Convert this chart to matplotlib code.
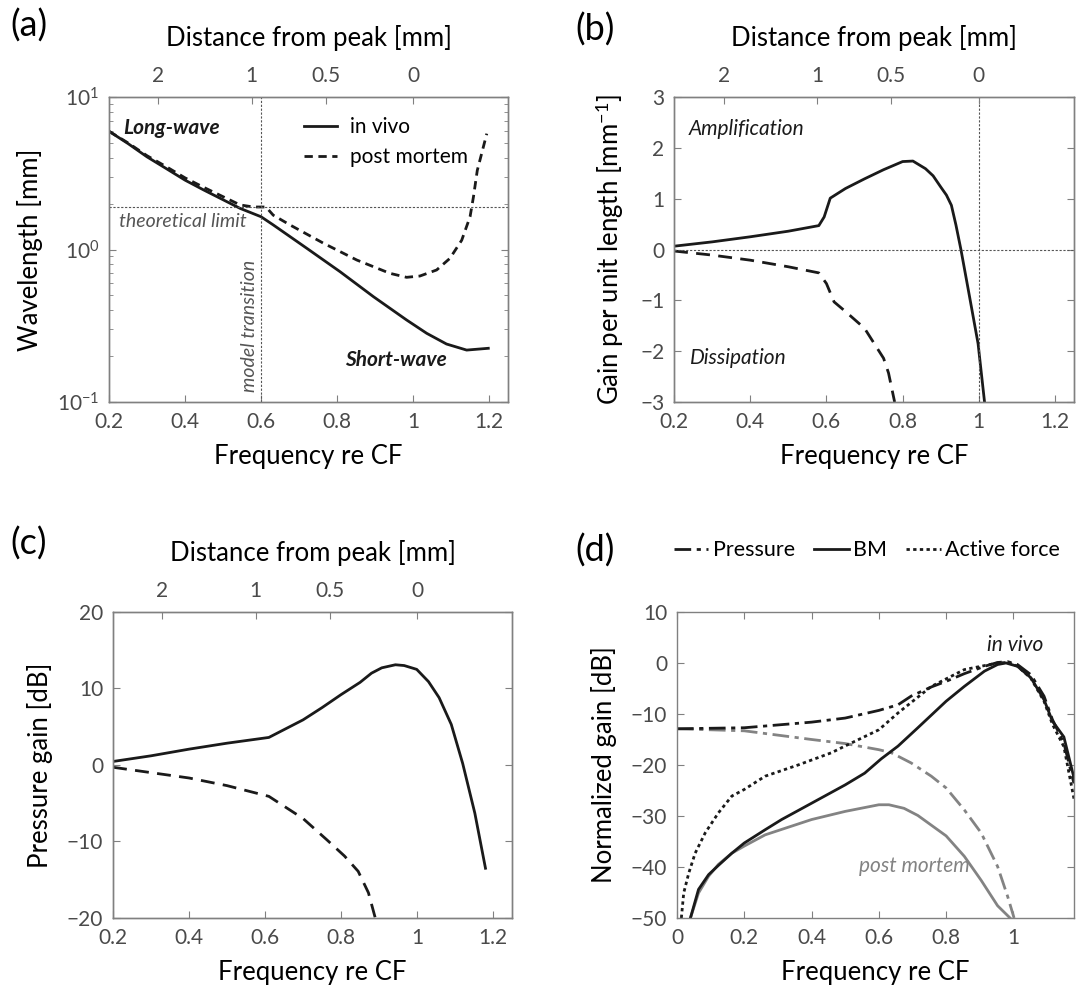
import matplotlib.pyplot as plt

plt.rcParams['font.family'] = ['Lato', 'DejaVu Sans']
plt.rcParams['mathtext.fontset'] = 'custom'
plt.rcParams['mathtext.rm'] = 'Lato'
plt.rcParams['mathtext.it'] = 'Lato:italic'

# (a) wavelength vs frequency
freq_a_vivo = [0.2, 0.25, 0.3, 0.35, 0.4, 0.45, 0.5, 0.545, 0.6, 0.632, 0.72,
               0.808, 0.896, 0.983, 1.036, 1.088, 1.141, 1.198]
wl_vivo = [5.96, 4.95, 4.05, 3.4, 2.85, 2.45, 2.12, 1.86, 1.64, 1.45, 1.02,
           0.715, 0.49, 0.345, 0.282, 0.24, 0.219, 0.225]
freq_a_pm = [0.2, 0.25, 0.3, 0.35, 0.4, 0.45, 0.5, 0.545, 0.58, 0.613, 0.632,
             0.676, 0.764, 0.852, 0.939, 0.983, 1.018, 1.062, 1.097, 1.128,
             1.15, 1.159, 1.169, 1.194]
wl_pm = [5.96, 5.0, 4.12, 3.5, 2.95, 2.55, 2.22, 1.96, 1.9, 1.9, 1.68, 1.45,
         1.1, 0.853, 0.698, 0.657, 0.67, 0.734, 0.875, 1.15, 1.64, 2.22, 3.3,
         5.75]
theoretical_limit = 1.9
transition_freq = 0.6

# (b) gain per unit length
freq_b_vivo = [0.2, 0.3, 0.4, 0.5, 0.58, 0.594, 0.61, 0.65, 0.7, 0.75, 0.8,
               0.827, 0.86, 0.88, 0.9, 0.915, 0.928, 0.94, 0.953, 0.974,
               0.998, 1.015]
gain_b_vivo = [0.065, 0.15, 0.25, 0.36, 0.47, 0.64, 1.01, 1.2, 1.39, 1.57,
               1.73, 1.74, 1.59, 1.45, 1.23, 1.07, 0.87, 0.48, 0.0, -0.86,
               -1.85, -3.0]
freq_b_pm = [0.2, 0.3, 0.4, 0.5, 0.58, 0.6, 0.62, 0.65, 0.7, 0.75, 0.763,
             0.779]
gain_b_pm = [-0.03, -0.11, -0.21, -0.34, -0.46, -0.67, -1.03, -1.22, -1.55,
             -2.14, -2.43, -3.0]

# (c) pressure gain
freq_c_vivo = [0.2, 0.3, 0.4, 0.5, 0.61, 0.7, 0.75, 0.8, 0.85, 0.88, 0.907,
               0.943, 0.966, 0.999, 1.03, 1.058, 1.09, 1.12, 1.152, 1.18]
pgain_vivo = [0.46, 1.2, 2.07, 2.85, 3.6, 5.9, 7.5, 9.2, 10.8, 12.0, 12.7,
              13.1, 13.0, 12.5, 10.9, 8.8, 5.3, 0.2, -6.3, -13.5]
freq_c_pm = [0.2, 0.3, 0.4, 0.5, 0.61, 0.7, 0.763, 0.809, 0.845, 0.872, 0.89]
pgain_pm = [-0.3, -1.0, -1.7, -2.7, -4.1, -7.0, -9.8, -11.9, -13.9, -16.7,
            -20.0]

# (d) normalized gains
freq_p_vivo = [0.0, 0.2, 0.4, 0.5, 0.6, 0.657, 0.696, 0.756, 0.8, 0.854,
               0.914, 0.953, 0.983, 1.012, 1.052, 1.091, 1.116, 1.15, 1.18]
press_vivo = [-12.9, -12.7, -11.6, -10.8, -9.3, -8.2, -6.5, -4.7, -3.6, -2.1,
              -0.65, 0.1, 0.26, -0.3, -2.3, -6.5, -11.1, -15.7, -23.6]
freq_bm_vivo = [0.04, 0.064, 0.094, 0.123, 0.163, 0.2, 0.262, 0.311, 0.4, 0.5,
                0.558, 0.607, 0.657, 0.716, 0.8, 0.854, 0.914, 0.953, 0.978,
                1.012, 1.052, 1.091, 1.116, 1.15, 1.18]
bm_vivo = [-50.0, -44.4, -41.5, -39.7, -37.3, -35.3, -32.7, -30.7, -27.5,
           -23.9, -21.6, -18.8, -16.3, -12.7, -7.5, -4.6, -1.6, -0.3, 0.0,
           -0.65, -2.9, -7.2, -11.4, -14.5, -22.5]
freq_af_vivo = [0.013, 0.02, 0.035, 0.054, 0.084, 0.123, 0.163, 0.2, 0.262,
                0.36, 0.459, 0.499, 0.6, 0.657, 0.756, 0.854, 0.953, 0.983,
                1.012, 1.052, 1.091, 1.116, 1.15, 1.18]
af_vivo = [-50.0, -45.1, -41.2, -37.3, -33.3, -29.4, -26.1, -24.8, -22.2,
           -20.0, -17.6, -16.3, -13.1, -9.8, -4.6, -1.3, 0.0, 0.1, -0.6, -3.0,
           -7.5, -12.0, -16.4, -26.6]
freq_p_pm = [0.0, 0.2, 0.4, 0.5, 0.6, 0.637, 0.696, 0.756, 0.8, 0.854, 0.904,
             0.953, 0.983, 1.002]
press_pm = [-12.9, -13.3, -15.0, -15.8, -17.0, -17.6, -19.6, -22.2, -24.5,
            -28.8, -33.3, -39.9, -45.8, -50.0]
freq_bm_pm = [0.04, 0.064, 0.094, 0.123, 0.163, 0.2, 0.262, 0.4, 0.5, 0.6,
              0.63, 0.675, 0.716, 0.8, 0.854, 0.904, 0.953, 0.99]
bm_pm = [-50.0, -45.1, -41.8, -39.5, -37.3, -35.9, -33.7, -30.7, -29.1,
         -27.8, -27.8, -28.5, -29.9, -33.9, -37.9, -42.6, -47.6, -50.0]

# top axis: distance from peak
dist_pos = [0.33, 0.575, 0.77, 1.0]
dist_labels = ['2', '1', '0.5', '0']

BLACK = '#1a1a1a'
GREY = '#838383'
SPINE = '#808080'
TICKTXT = '#4a4a4a'
LABEL_SIZE = 18.5


def style(ax, top=True):
    for s in ax.spines.values():
        s.set_color(SPINE)
        s.set_linewidth(1.0)
    ax.tick_params(which='both', direction='in', top=top, right=True,
                   labelsize=15, labelcolor=TICKTXT, color=SPINE, length=5,
                   pad=7)
    ax.tick_params(which='minor', length=3)


def add_distance_axis(ax):
    top = ax.twiny()
    top.set_xlim(ax.get_xlim())
    top.set_xticks(dist_pos)
    top.set_xticklabels(dist_labels)
    style(top)
    top.tick_params(axis='x', pad=8)
    top.set_xlabel('Distance from peak [mm]', fontsize=LABEL_SIZE,
                   labelpad=14)
    return top


fig = plt.figure(figsize=(10.87, 9.99), dpi=100)
ax_a = fig.add_axes([0.1003, 0.5976, 0.3671, 0.3053])
ax_b = fig.add_axes([0.6201, 0.5976, 0.3680, 0.3053])
ax_c = fig.add_axes([0.1040, 0.0811, 0.3671, 0.3063])
ax_d = fig.add_axes([0.6228, 0.0811, 0.3652, 0.3063])

# (a)
ax = ax_a
ax.plot(freq_a_vivo, wl_vivo, color=BLACK, lw=2, label='in vivo')
ax.plot(freq_a_pm, wl_pm, color=BLACK, lw=2, ls=(0, (3, 2)),
        label='post mortem')
ax.axhline(theoretical_limit, color='#555555', lw=0.8, ls=(0, (2, 1.5)))
ax.axvline(transition_freq, color='#555555', lw=0.8, ls=(0, (2, 1.5)))
ax.set_yscale('log')
ax.set_xlim(0.2, 1.25)
ax.set_ylim(0.1, 10)
ax.set_xticks([0.2, 0.4, 0.6, 0.8, 1.0, 1.2])
ax.set_xticklabels(['0.2', '0.4', '0.6', '0.8', '1', '1.2'])
style(ax, top=False)
ax.set_xlabel('Frequency re CF', fontsize=LABEL_SIZE, labelpad=9)
ax.set_ylabel('Wavelength [mm]', fontsize=LABEL_SIZE, labelpad=10)
ax.text(0.236, 6.27, 'Long-wave', fontsize=15, fontweight='bold',
        style='italic', va='center', color=BLACK)
ax.text(0.822, 0.189, 'Short-wave', fontsize=15, fontweight='bold',
        style='italic', va='center', color=BLACK)
ax.text(0.227, 1.52, 'theoretical limit', fontsize=14, style='italic',
        va='center', color='#555555')
ax.text(0.569, 0.117, 'model transition', fontsize=14, style='italic',
        rotation=90, ha='center', va='bottom', color='#555555')
ax.legend(loc='upper left', bbox_to_anchor=(0.489, 0.935), frameon=False,
          fontsize=15, handlelength=1.6, handletextpad=0.6, labelspacing=0.5,
          borderpad=0, borderaxespad=0)
add_distance_axis(ax)

# (b)
ax = ax_b
ax.plot(freq_b_vivo, gain_b_vivo, color=BLACK, lw=2)
ax.plot(freq_b_pm, gain_b_pm, color=BLACK, lw=2, ls=(0, (5, 3)))
ax.axhline(0, color='#555555', lw=0.8, ls=(0, (2, 1.5)))
ax.axvline(1.0, color='#555555', lw=0.8, ls=(0, (2, 1.5)))
ax.set_xlim(0.2, 1.25)
ax.set_ylim(-3, 3)
ax.set_xticks([0.2, 0.4, 0.6, 0.8, 1.0, 1.2])
ax.set_xticklabels(['0.2', '0.4', '0.6', '0.8', '1', '1.2'])
ax.set_yticks([-3, -2, -1, 0, 1, 2, 3])
style(ax, top=False)
ax.set_xlabel('Frequency re CF', fontsize=LABEL_SIZE, labelpad=9)
ax.set_ylabel('Gain per unit length [mm$^{-1}$]', fontsize=LABEL_SIZE,
              labelpad=10)
ax.text(0.239, 2.38, 'Amplification', fontsize=15, style='italic',
        va='center', color=BLACK)
ax.text(0.241, -2.14, 'Dissipation', fontsize=15, style='italic',
        va='center', color=BLACK)
add_distance_axis(ax)

# (c)
ax = ax_c
ax.plot(freq_c_vivo, pgain_vivo, color=BLACK, lw=2)
ax.plot(freq_c_pm, pgain_pm, color=BLACK, lw=2, ls=(0, (5, 3)))
ax.set_xlim(0.2, 1.25)
ax.set_ylim(-20, 20)
ax.set_xticks([0.2, 0.4, 0.6, 0.8, 1.0, 1.2])
ax.set_xticklabels(['0.2', '0.4', '0.6', '0.8', '1', '1.2'])
ax.set_yticks([-20, -10, 0, 10, 20])
style(ax, top=False)
ax.set_xlabel('Frequency re CF', fontsize=LABEL_SIZE, labelpad=9)
ax.set_ylabel('Pressure gain [dB]', fontsize=LABEL_SIZE, labelpad=10)
add_distance_axis(ax)

# (d)
ax = ax_d
ax.plot(freq_p_pm, press_pm, color=GREY, lw=2, ls=(0, (6, 2, 1.5, 2)))
ax.plot(freq_bm_pm, bm_pm, color=GREY, lw=2)
ax.plot(freq_p_vivo, press_vivo, color=BLACK, lw=2, ls=(0, (6, 2, 1.5, 2)),
        label='Pressure')
ax.plot(freq_bm_vivo, bm_vivo, color=BLACK, lw=2, label='BM')
ax.plot(freq_af_vivo, af_vivo, color=BLACK, lw=2, ls=(0, (1.2, 1.2)),
        label='Active force')
ax.set_xlim(0, 1.18)
ax.set_ylim(-50, 10)
ax.set_xticks([0, 0.2, 0.4, 0.6, 0.8, 1.0])
ax.set_xticklabels(['0', '0.2', '0.4', '0.6', '0.8', '1'])
ax.set_yticks([-50, -40, -30, -20, -10, 0, 10])
style(ax, top=True)
ax.set_xlabel('Frequency re CF', fontsize=LABEL_SIZE, labelpad=9)
ax.set_ylabel('Normalized gain [dB]', fontsize=LABEL_SIZE, labelpad=10)
ax.text(1.005, 3.6, 'in vivo', fontsize=15, style='italic', ha='center',
        va='center', color=BLACK)
ax.text(0.706, -39.9, 'post mortem', fontsize=15, style='italic',
        ha='center', va='center', color=GREY)
ax.legend(loc='center left', bbox_to_anchor=(0.620, 0.449),
          bbox_transform=fig.transFigure, ncol=3, frameon=False,
          fontsize=15.5, handlelength=1.6, handletextpad=0.2,
          columnspacing=0.9, borderpad=0, borderaxespad=0)

# panel letters
fig.text(0.010, 0.974, '(a)', fontsize=26, va='center')
fig.text(0.529, 0.970, '(b)', fontsize=26, va='center')
fig.text(0.010, 0.456, '(c)', fontsize=26, va='center')
fig.text(0.529, 0.449, '(d)', fontsize=26, va='center')

fig.savefig('out.png', dpi=100)
